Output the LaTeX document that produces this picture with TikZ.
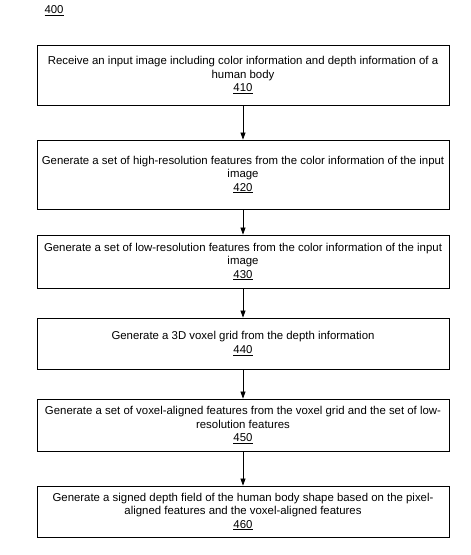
\documentclass[tikz,border=0pt]{standalone}
\usepackage{fontspec}
\setmainfont{Liberation Sans}
\usetikzlibrary{arrows.meta}
\begin{document}
\begin{tikzpicture}[x=1pt,y=-1pt,
  stepbox/.style={draw, line width=0.8pt, minimum width=412pt, align=center, font=\fontsize{11.4}{13.5}\selectfont, inner sep=0pt},
  conn/.style={-{Triangle[width=5pt,length=7pt]}, line width=0.7pt}]
\useasboundingbox (0,0) rectangle (471,555);
\node[anchor=west, font=\fontsize{11.4}{12}\selectfont] (lbl) at (41,11) {\underline{400}};
\node[stepbox, minimum height=60pt] (s410) at (243,75) {Receive an input image including color information and depth information of a\\human body\\\underline{410}};
\node[stepbox, minimum height=69pt] (s420) at (243,174.5) {Generate a set of high-resolution features from the color information of the input\\image\\\underline{420}};
\node[stepbox, minimum height=53pt] (s430) at (243,261.5) {Generate a set of low-resolution features from the color information of the input\\image\\\underline{430}};
\node[stepbox, minimum height=51pt] (s440) at (243,343.5) {Generate a 3D voxel grid from the depth information\\\underline{440}};
\node[stepbox, minimum height=52pt] (s450) at (243,425) {Generate a set of voxel-aligned features from the voxel grid and the set of low-\\resolution features\\\underline{450}};
\node[stepbox, minimum height=51pt] (s460) at (243,511.5) {Generate a signed depth field of the human body shape based on the pixel-\\aligned features and the voxel-aligned features\\\underline{460}};
\draw[conn] (s410) -- (s420);
\draw[conn] (s420) -- (s430);
\draw[conn] (s430) -- (s440);
\draw[conn] (s440) -- (s450);
\draw[conn] (s450) -- (s460);
\end{tikzpicture}
\end{document}
